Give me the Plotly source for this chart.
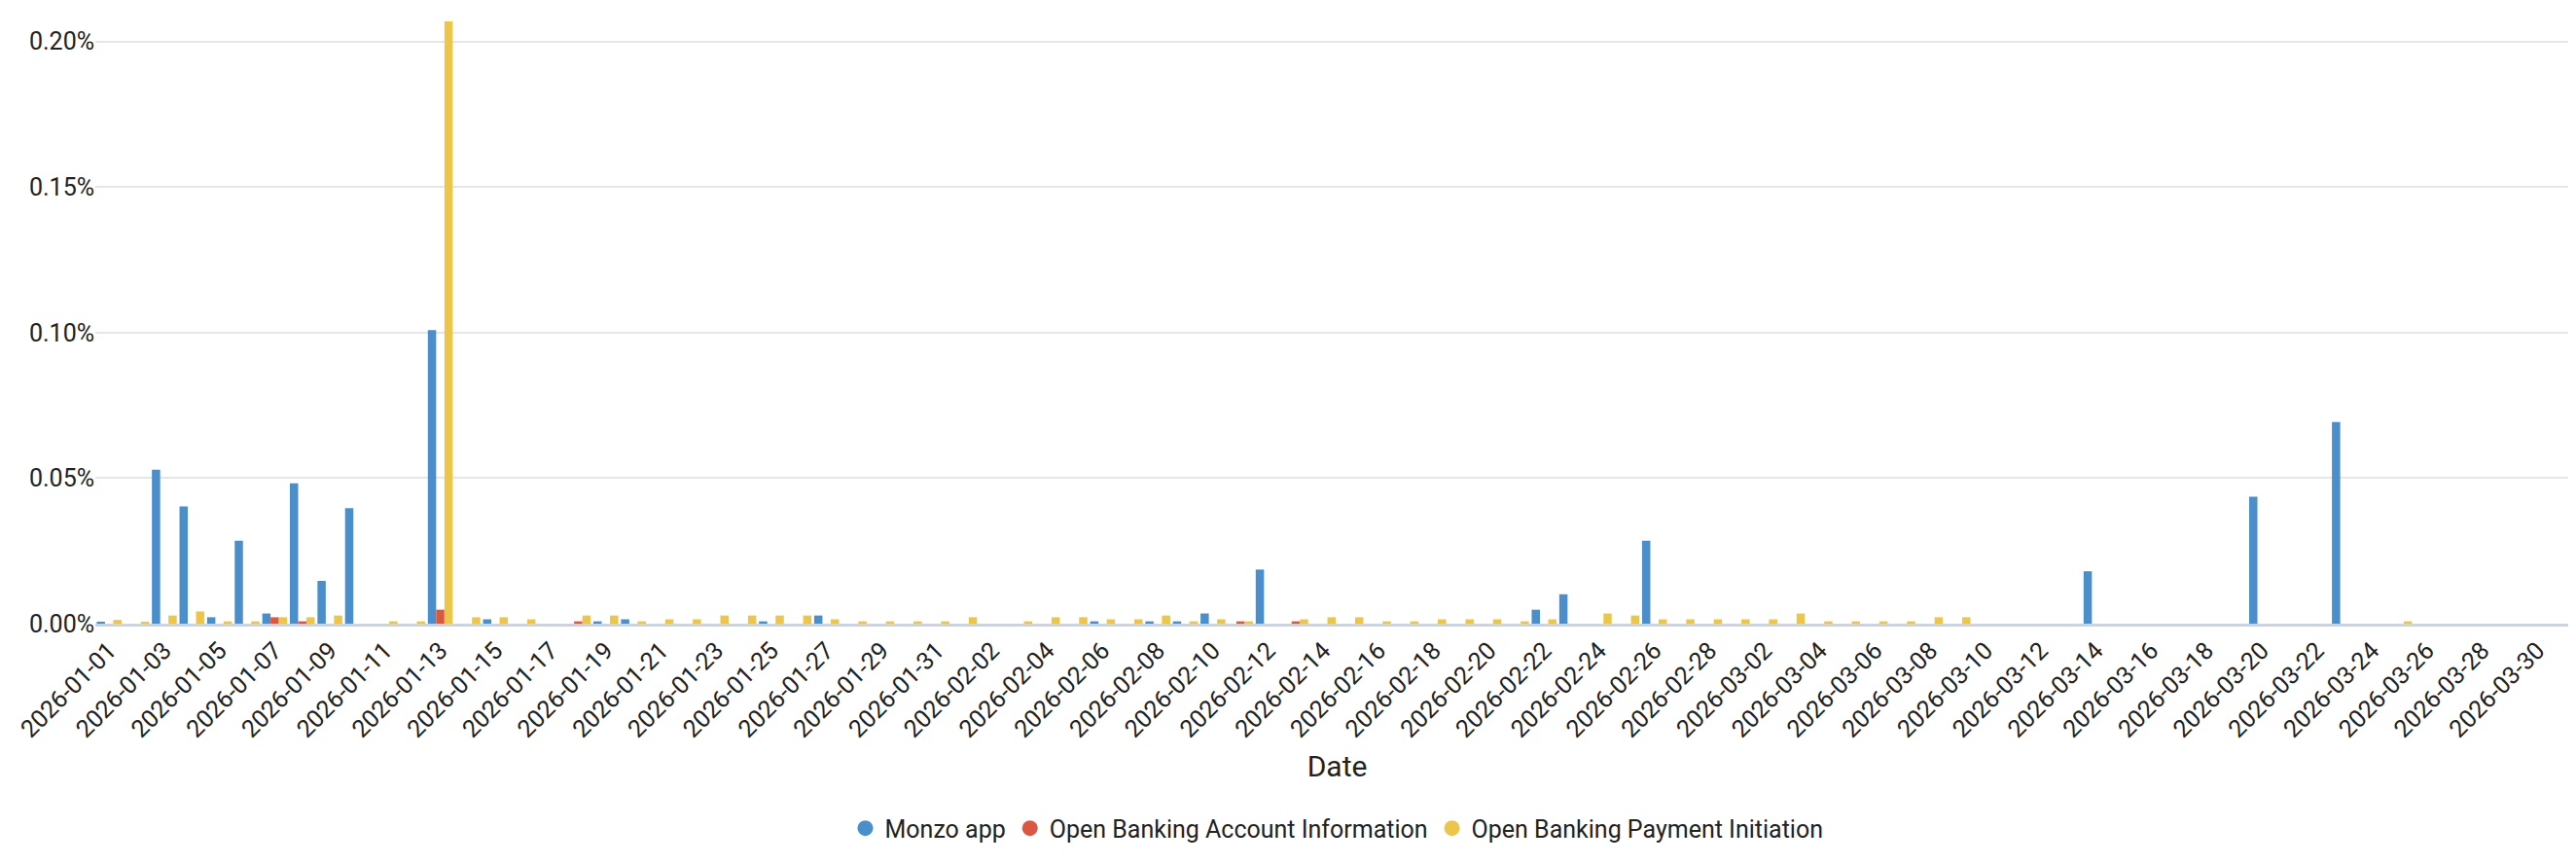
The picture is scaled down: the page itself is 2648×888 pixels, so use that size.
import pandas as pd
import plotly.graph_objects as go

dates = [d.strftime("%Y-%m-%d") for d in pd.date_range("2026-01-01", "2026-03-31")]
tick_dates = dates[:-1:2]

monzo_app = [
    0.0007, 0, 0.0529, 0.0403, 0.0022, 0.0285, 0.0035, 0.0482, 0.0147, 0.0397,
    0, 0, 0.1009, 0, 0.0015, 0, 0, 0, 0.0008, 0.0015,
    0, 0, 0, 0, 0.0008, 0, 0.0028, 0, 0, 0,
    0, 0, 0, 0, 0, 0, 0.0008, 0, 0.0008, 0.0008,
    0.0035, 0, 0.0186, 0, 0, 0, 0, 0, 0, 0,
    0, 0, 0.0048, 0.0101, 0, 0, 0.0285, 0, 0, 0,
    0, 0, 0, 0, 0, 0, 0, 0, 0, 0,
    0, 0, 0.018, 0, 0, 0, 0, 0, 0.0436, 0,
    0, 0.0693, 0, 0, 0, 0, 0, 0, 0, 0,
]
ob_account_info = [
    0, 0, 0, 0, 0, 0, 0.0022, 0.0008, 0, 0,
    0, 0, 0.0048, 0, 0, 0, 0, 0.0008, 0, 0,
    0, 0, 0, 0, 0, 0, 0, 0, 0, 0,
    0, 0, 0, 0, 0, 0, 0, 0, 0, 0,
    0, 0.0008, 0, 0.0008, 0, 0, 0, 0, 0, 0,
    0, 0, 0, 0, 0, 0, 0, 0, 0, 0,
    0, 0, 0, 0, 0, 0, 0, 0, 0, 0,
    0, 0, 0, 0, 0, 0, 0, 0, 0, 0,
    0, 0, 0, 0, 0, 0, 0, 0, 0, 0,
]
ob_payment_init = [
    0.0013, 0.0007, 0.0028, 0.0042, 0.0008, 0.0008, 0.0022, 0.0022, 0.0028, 0,
    0.0008, 0.0008, 0.2069, 0.0022, 0.0022, 0.0015, 0, 0.0028, 0.0028, 0.0008,
    0.0015, 0.0015, 0.0028, 0.0028, 0.0028, 0.0028, 0.0015, 0.0008, 0.0008, 0.0008,
    0.0008, 0.0022, 0, 0.0008, 0.0022, 0.0022, 0.0015, 0.0015, 0.0028, 0.0008,
    0.0015, 0.0008, 0, 0.0015, 0.0022, 0.0022, 0.0008, 0.0008, 0.0015, 0.0015,
    0.0015, 0.0008, 0.0015, 0, 0.0035, 0.0028, 0.0015, 0.0015, 0.0015, 0.0015,
    0.0015, 0.0035, 0.0008, 0.0008, 0.0008, 0.0008, 0.0022, 0.0022, 0, 0,
    0, 0, 0, 0, 0, 0, 0, 0, 0, 0,
    0, 0, 0, 0.0008, 0, 0, 0, 0, 0, 0,
]
y_ticks = [0, 0.05, 0.10, 0.15, 0.20]
y_tick_text = ["0.00%", "0.05%", "0.10%", "0.15%", "0.20%"]

series = [
    ("Monzo app", monzo_app, "#4A8FCB"),
    ("Open Banking Account Information", ob_account_info, "#DA5841"),
    ("Open Banking Payment Initiation", ob_payment_init, "#ECC54B"),
]

fig = go.Figure()
for name, vals, color in series:
    fig.add_trace(go.Bar(x=dates, y=vals, name=name, marker_color=color,
                         marker_line_width=0, showlegend=False, legendgroup=name))
for name, vals, color in series:
    fig.add_trace(go.Scatter(x=[None], y=[None], mode="markers", name=name, legendgroup=name,
                             marker=dict(color=color, size=22, symbol="circle")))

fig.update_layout(
    width=2648, height=888,
    barmode="group", bargap=0.1, bargroupgap=0,
    plot_bgcolor="white", paper_bgcolor="white",
    font=dict(family="Roboto", size=25, color="#222"),
    margin=dict(l=90, r=5, t=14, b=255),
    legend=dict(orientation="h", x=0.5, xanchor="center", y=-0.34, yanchor="middle",
                font=dict(size=25)),
    xaxis=dict(type="category", tickmode="array", tickvals=tick_dates, ticktext=tick_dates,
               tickangle=-45, showgrid=False, showline=True, linecolor="#C9D3E6", linewidth=3,
               title=dict(text="Date", standoff=15), ticks=""),
    yaxis=dict(range=[0, 0.2069], tickvals=y_ticks, ticktext=y_tick_text,
               showgrid=True, gridcolor="#E6E6E6", gridwidth=2, zeroline=False, ticks=""),
)
fig.write_html("out.html")
